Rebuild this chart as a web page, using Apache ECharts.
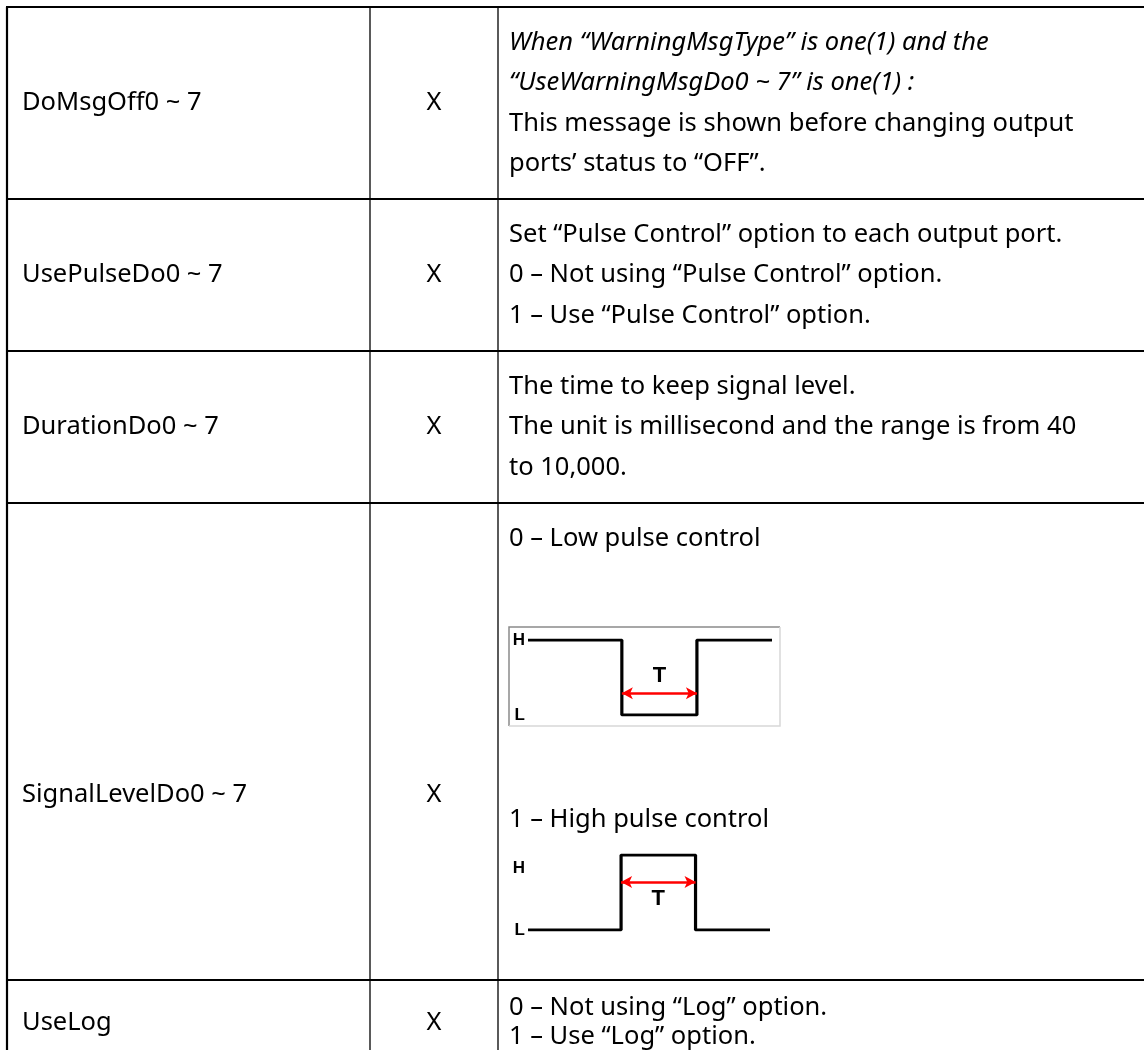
<!DOCTYPE html>
<html><head><meta charset="utf-8">
<script src="https://cdn.jsdelivr.net/npm/echarts/dist/echarts.min.js"></script>
<style>html,body{margin:0;padding:0;background:#fff}#c{width:1144px;height:1050px}</style>
</head><body><div id="c"></div>
<script>
// ---- data ----
const names = ['DoMsgOff0 ~ 7', 'UsePulseDo0 ~ 7', 'DurationDo0 ~ 7', 'SignalLevelDo0 ~ 7', 'UseLog'];
const flags = ['X', 'X', 'X', 'X', 'X'];
const descDoMsgOff = [
  ['When \u201cWarningMsgType\u201d is one(1) and the', true],
  ['\u201cUseWarningMsgDo0 ~ 7\u201d is one(1) :', true],
  ['This message is shown before changing output', false],
  ['ports\u2019 status to \u201cOFF\u201d.', false]
];
const descUsePulse = [
  'Set \u201cPulse Control\u201d option to each output port.',
  '0 \u2013 Not using \u201cPulse Control\u201d option.',
  '1 \u2013 Use \u201cPulse Control\u201d option.'
];
const descDuration = [
  'The time to keep signal level.',
  'The unit is millisecond and the range is from 40',
  'to 10,000.'
];
const descSignalLevel = ['0 \u2013 Low pulse control', '1 \u2013 High pulse control'];
const descUseLog = ['0 \u2013 Not using \u201cLog\u201d option.', '1 \u2013 Use \u201cLog\u201d option.'];
const pulseTime = [0, 5, 5, 9, 9, 13];
const lowPulseLevel = [1, 1, 0, 0, 1, 1];
const highPulseLevel = [0, 0, 1, 1, 0, 0];
const levelLabels = ['L', 'H'];
const pulseSpan = [5, 9];
const arrowLevel = [0.29, 0.64];
const periodLabel = 'T';

// ---- layout ----
const FONT = '"Noto Sans", "Open Sans", sans-serif';
const FS = 25.5;
const LH = 40.5;
const PAD = 15;
const rowY = [7, 199, 351, 503, 980, 1094];
const colX = [7, 370, 498, 1150];

const chart = echarts.init(document.getElementById('c'), null, {renderer: 'canvas'});
const g = [];
function hline(y) { g.push({type: 'line', shape: {x1: colX[0] - 1, y1: y, x2: colX[3], y2: y}, style: {stroke: '#000', lineWidth: 2.2}}); }
function vline(x, w) { g.push({type: 'line', shape: {x1: x, y1: rowY[0], x2: x, y2: 1050}, style: {stroke: '#000', lineWidth: w}}); }
function txt(s, x, y, opt) {
  opt = opt || {};
  g.push({type: 'text', x: x, y: y, style: {text: s, fill: '#000', fontFamily: FONT, fontSize: FS,
    fontStyle: opt.italic ? 'italic' : 'normal', align: opt.align || 'left', verticalAlign: 'middle'}});
}
for (let i = 0; i < 5; i++) hline(rowY[i]);
vline(colX[0], 2.2); vline(colX[1], 1.3); vline(colX[2], 1.3);

const descX = colX[2] + 11;
const logY = [1008, 1037];
const labelY = [
  (rowY[0] + rowY[1]) / 2,
  (rowY[1] + rowY[2]) / 2,
  (rowY[2] + rowY[3]) / 2,
  795,
  (logY[0] + logY[1]) / 2
];
for (let r = 0; r < 5; r++) {
  txt(names[r], colX[0] + 15, labelY[r]);
  txt(flags[r], (colX[1] + colX[2]) / 2, labelY[r], {align: 'center'});
}
const lineY = (r, i) => rowY[r] + PAD + LH * (i + 0.5);
descDoMsgOff.forEach((d, i) => txt(d[0], descX, lineY(0, i), {italic: d[1]}));
descUsePulse.forEach((d, i) => txt(d, descX, lineY(1, i)));
descDuration.forEach((d, i) => txt(d, descX, lineY(2, i)));
txt(descSignalLevel[0], descX, lineY(3, 0));
txt(descSignalLevel[1], descX, 820);
descUseLog.forEach((d, i) => txt(d, descX, logY[i]));

// frame around the low-pulse picture
g.push({type: 'polyline', shape: {points: [[509, 726], [509, 627], [780, 627]]}, style: {stroke: '#8a8a8a', lineWidth: 1.5, fill: null}});
g.push({type: 'polyline', shape: {points: [[780, 627], [780, 726], [509, 726]]}, style: {stroke: '#d8d8d8', lineWidth: 1.5, fill: null}});

function pulseAxes(gi, shiftH) {
  return {
    x: {gridIndex: gi, type: 'value', min: 0, max: 13, show: false},
    y: {gridIndex: gi, type: 'value', min: 0, max: 1, interval: 1,
      axisLine: {show: false}, axisTick: {show: false}, splitLine: {show: false},
      axisLabel: {margin: 3, color: '#000', fontWeight: 'bold', fontSize: 17, fontFamily: 'Arial, "Liberation Sans", sans-serif',
        formatter: v => (v === 1 && shiftH) ? '{d|' + levelLabels[v] + '}' : levelLabels[v],
        rich: {d: {padding: [26, 0, 0, 0], fontWeight: 'bold', fontSize: 17, color: '#000', fontFamily: 'Arial, "Liberation Sans", sans-serif'}}}}
  };
}
const a0 = pulseAxes(0, false), a1 = pulseAxes(1, true);
function pulseSeries(gi, levels, lvl, pos) {
  return {
    type: 'line', xAxisIndex: gi, yAxisIndex: gi, silent: true, animation: false,
    symbol: 'none', lineStyle: {color: '#000', width: 3.2}, z: 3,
    data: pulseTime.map((t, i) => [t, levels[i]]),
    markLine: {
      silent: true, animation: false, symbol: ['arrow', 'arrow'], symbolSize: [9, 11],
      lineStyle: {color: '#ff0000', width: 2.6, type: 'solid'},
      label: {show: true, formatter: periodLabel, position: pos, distance: 6, color: '#000',
        fontWeight: 'bold', fontSize: 22, fontFamily: 'Arial, "Liberation Sans", sans-serif'},
      data: [[{coord: [pulseSpan[0], lvl]}, {coord: [pulseSpan[1], lvl]}]]
    }
  };
}

chart.setOption({
  animation: false,
  backgroundColor: '#fff',
  grid: [
    {left: 528, top: 640, width: 244, height: 75},
    {left: 528, top: 855, width: 242, height: 75}
  ],
  xAxis: [a0.x, a1.x],
  yAxis: [a0.y, a1.y],
  series: [
    pulseSeries(0, lowPulseLevel, arrowLevel[0], 'insideMiddleTop'),
    pulseSeries(1, highPulseLevel, arrowLevel[1], 'insideMiddleBottom')
  ],
  graphic: g
});
</script></body></html>
